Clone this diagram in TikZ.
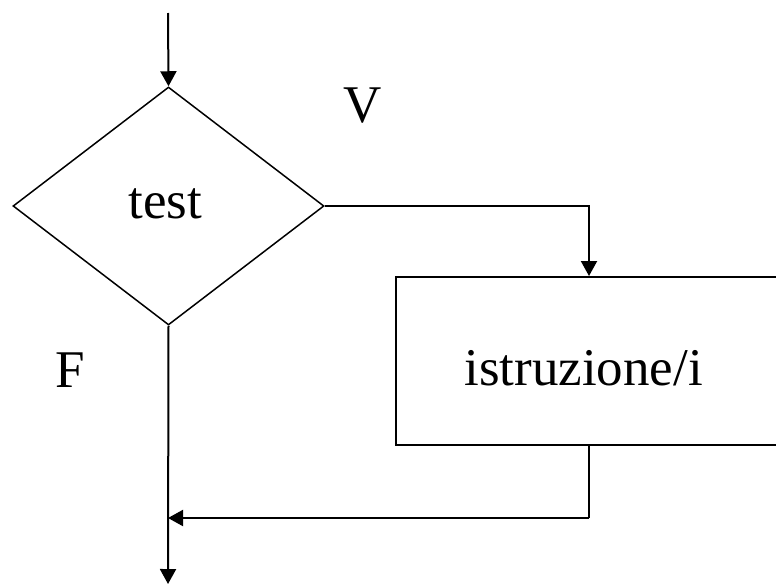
\documentclass[tikz,border=0pt]{standalone}
\usepackage{fontspec}
\setmainfont{Liberation Serif}
\usetikzlibrary{shapes.geometric,arrows.meta}
\begin{document}
\begin{tikzpicture}[x=1pt,y=1pt,
  conn/.style={line width=2pt},
  arr/.style={conn,-{Triangle[length=15pt,width=16pt]}},
  lbl/.style={inner sep=0pt,anchor=base,font=\fontsize{53pt}{60pt}\selectfont},
  dec/.style={draw,diamond,line width=1.5pt,minimum width=311pt,minimum height=238pt,inner sep=0pt},
  blk/.style={draw,rectangle,line width=2pt,minimum width=400pt,minimum height=168pt,inner sep=0pt}]
\useasboundingbox (0,0) rectangle (776,-584);
\clip (0,0) rectangle (776,-584);
\node[dec] (d) at (168.5,-206) {};
\node[lbl] (t) at (165.5,-218) {test};
\node[blk] (box) at (596,-361) {};
\node[lbl] (istr) at (583.5,-385) {istruzione/i};
\node[lbl] (v) at (363,-122) {V};
\node[lbl] (f) at (70,-387) {F};
\coordinate (start) at (168,-13);
\coordinate (j1) at (589,-206);
\coordinate (j2) at (589,-518);
\coordinate (m) at (168,-518);
\coordinate (end) at (168,-584);
\draw[arr] (start) -- (d.north);
\draw[arr] (d.east) -- (j1) -- (j1 |- box.north);
\draw[conn] (j1 |- box.south) -- (j2);
\draw[arr] (j2) -- (m);
\draw[arr] (d.south) -- (end);
\end{tikzpicture}
\end{document}
